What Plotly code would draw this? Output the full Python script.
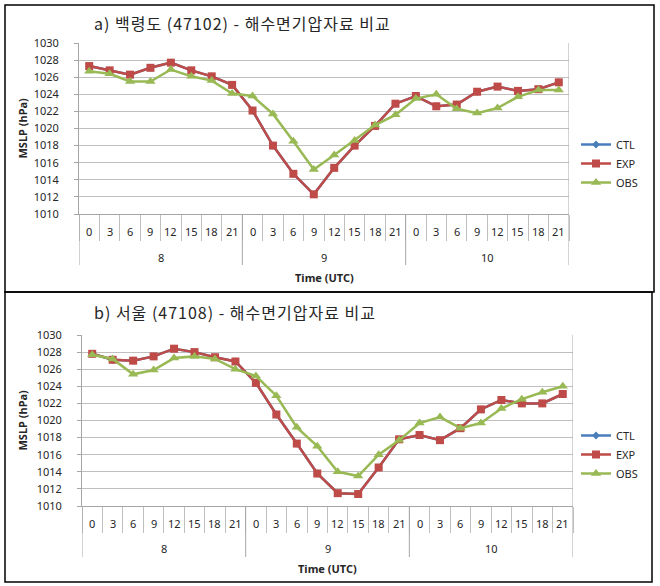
import plotly.graph_objects as go

# ---------------- data ----------------
hours = ["0", "3", "6", "9", "12", "15", "18", "21"] * 3
days = ["8", "9", "10"]
title_a = "a) 백령도 (47102) - 해수면기압자료 비교"
title_b = "b) 서울 (47108) - 해수면기압자료 비교"

ctl_a = [1027.3, 1026.8, 1026.3, 1027.1, 1027.7, 1026.8, 1026.1, 1025.1, 1022.1, 1018.0, 1014.7, 1012.3,
         1015.4, 1018.0, 1020.3, 1022.9, 1023.8, 1022.6, 1022.8, 1024.3, 1024.9, 1024.4, 1024.6, 1025.4]
exp_a = [1027.3, 1026.8, 1026.3, 1027.1, 1027.7, 1026.8, 1026.1, 1025.1, 1022.1, 1018.0, 1014.7, 1012.3,
         1015.4, 1018.0, 1020.3, 1022.9, 1023.8, 1022.6, 1022.8, 1024.3, 1024.9, 1024.4, 1024.6, 1025.4]
obs_a = [1026.7, 1026.4, 1025.5, 1025.5, 1026.9, 1026.1, 1025.6, 1024.1, 1023.8, 1021.7, 1018.5, 1015.2,
         1016.9, 1018.6, 1020.4, 1021.6, 1023.5, 1024.0, 1022.3, 1021.8, 1022.4, 1023.7, 1024.5, 1024.5]

ctl_b = [1027.8, 1027.1, 1027.0, 1027.5, 1028.4, 1028.0, 1027.4, 1026.9, 1024.4, 1020.7, 1017.3, 1013.8,
         1011.5, 1011.4, 1014.5, 1017.8, 1018.3, 1017.7, 1019.1, 1021.3, 1022.4, 1022.0, 1022.0, 1023.1]
exp_b = [1027.8, 1027.1, 1027.0, 1027.5, 1028.4, 1028.0, 1027.4, 1026.9, 1024.4, 1020.7, 1017.3, 1013.8,
         1011.5, 1011.4, 1014.5, 1017.8, 1018.3, 1017.7, 1019.1, 1021.3, 1022.4, 1022.0, 1022.0, 1023.1]
obs_b = [1027.7, 1027.2, 1025.4, 1025.9, 1027.3, 1027.5, 1027.2, 1026.0, 1025.2, 1022.9, 1019.2, 1017.0,
         1014.0, 1013.5, 1016.0, 1017.7, 1019.7, 1020.4, 1019.1, 1019.7, 1021.4, 1022.5, 1023.3, 1024.0]

# ---------------- layout helpers ----------------
W, H = 660, 586
def px(x): return x / W
def py(y): return 1 - y / H

FONT = "Noto Sans"
KFONT = "Noto Sans CJK KR"
TXT = "#262626"
GRID = "#BFBFBF"
AXIS = "#A6A6A6"

C_CTL, C_EXP, C_OBS = "#4A7EBB", "#BE4B48", "#98B954"

xs = list(range(len(hours)))

fig = go.Figure()

panels = [
    dict(ctl=ctl_a, exp=exp_a, obs=obs_a, xa="x", ya="y", leg="legend", title=title_a,
         x0=79, x1=569, ytop=43, ybot=214, tick_y=231, grp_y=257, grp_bot=265, time_y=277,
         title_x=92, title_y=23, ylab_x=22, leg_y=130, frame=(5, 5, 654, 292)),
    dict(ctl=ctl_b, exp=exp_b, obs=obs_b, xa="x2", ya="y2", leg="legend2", title=title_b,
         x0=82, x1=573, ytop=335, ybot=506, tick_y=523, grp_y=548, grp_bot=557, time_y=568,
         title_x=92, title_y=312, ylab_x=22, leg_y=421, frame=(5, 292, 652, 582)),
]

annotations = []
shapes = []

for i, p in enumerate(panels):
    sfx = "" if i == 0 else "2"
    for name, vals, col, sym, size in [("CTL", p["ctl"], C_CTL, "diamond", 6),
                                        ("EXP", p["exp"], C_EXP, "square", 8),
                                        ("OBS", p["obs"], C_OBS, "triangle-up", 9)]:
        fig.add_trace(go.Scatter(
            x=xs, y=vals, name=name, mode="lines+markers",
            line=dict(color=col, width=2.5),
            marker=dict(symbol=sym, size=size, color=col),
            xaxis=p["xa"], yaxis=p["ya"], legend=p["leg"], showlegend=True,
        ))

    fig.update_layout(**{
        "xaxis" + sfx: dict(domain=[px(p["x0"]), px(p["x1"])], range=[-0.5, 23.5],
                            tickvals=[k - 0.5 for k in range(25)], showticklabels=False,
                            ticks="outside", ticklen=26, tickcolor=GRID, tickwidth=1,
                            showgrid=False, zeroline=False, showline=True, linecolor=AXIS,
                            anchor="y" + sfx, fixedrange=True, automargin=False),
        "yaxis" + sfx: dict(domain=[py(p["ybot"]), py(p["ytop"])], range=[1010, 1030],
                            dtick=2, tick0=1010, showgrid=True, gridcolor=GRID, gridwidth=1,
                            showline=True, linecolor=AXIS, ticks="outside", ticklen=4,
                            tickcolor=AXIS, tickfont=dict(family=FONT, size=11, color=TXT),
                            ticklabelstandoff=13,
                            zeroline=False, anchor="x" + sfx, fixedrange=True, automargin=False),
        p["leg"]: dict(x=px(576), y=py(p["leg_y"]), xanchor="left", yanchor="top",
                       font=dict(family=FONT, size=11, color=TXT), bgcolor="rgba(0,0,0,0)",
                       tracegroupgap=0, itemwidth=30),
    })

    # hour tick labels
    for k, h in enumerate(hours):
        annotations.append(dict(x=k, y=py(p["tick_y"]), xref=p["xa"], yref="paper", text=h,
                                showarrow=False, font=dict(family=FONT, size=11, color=TXT),
                                xanchor="center", yanchor="middle"))
    # day group labels
    for g, d in enumerate(days):
        annotations.append(dict(x=g * 8 + 3.5, y=py(p["grp_y"]), xref=p["xa"], yref="paper",
                                text=d, showarrow=False, font=dict(family=FONT, size=11, color=TXT),
                                xanchor="center", yanchor="middle"))
    # group dividers (extend below tick area)
    for b in [-0.5, 7.5, 15.5, 23.5]:
        shapes.append(dict(type="line", xref=p["xa"], yref="paper", x0=b, x1=b,
                           y0=py(p["ybot"]), y1=py(p["grp_bot"]), line=dict(color=AXIS, width=1)))
    # right border of plot area
    shapes.append(dict(type="line", xref=p["xa"], yref="paper", x0=23.5, x1=23.5,
                       y0=py(p["ybot"]), y1=py(p["ytop"]), line=dict(color=AXIS, width=1)))
    # axis titles
    annotations.append(dict(x=px((p["x0"] + p["x1"]) / 2), y=py(p["time_y"]), xref="paper", yref="paper",
                            text="<b>Time (UTC)</b>", showarrow=False,
                            font=dict(family=FONT, size=11, color=TXT), xanchor="center", yanchor="middle"))
    annotations.append(dict(x=px(p["ylab_x"]), y=py((p["ytop"] + p["ybot"]) / 2), xref="paper", yref="paper",
                            text="<b>MSLP (hPa)</b>", showarrow=False, textangle=-90,
                            font=dict(family=FONT, size=11, color=TXT), xanchor="center", yanchor="middle"))
    # chart title
    annotations.append(dict(x=px(p["title_x"]), y=py(p["title_y"]), xref="paper", yref="paper",
                            text='<span style="letter-spacing:1px">' + p["title"] + '</span>',
                            showarrow=False,
                            font=dict(family=KFONT, size=16, color=TXT), xanchor="left", yanchor="middle"))
    # panel frame
    fx0, fy0, fx1, fy1 = p["frame"]
    shapes.append(dict(type="rect", xref="paper", yref="paper", x0=px(fx0), x1=px(fx1),
                       y0=py(fy1), y1=py(fy0), line=dict(color="black", width=1.5)))

fig.update_layout(width=W, height=H, autosize=False,
                  margin=dict(l=0, r=0, t=0, b=0, autoexpand=False),
                  paper_bgcolor="white", plot_bgcolor="white",
                  annotations=annotations, shapes=shapes, showlegend=True)

fig.write_html("out.html", config={"displayModeBar": False},
               post_script="document.body.style.margin='0px';document.body.style.overflow='hidden';")
